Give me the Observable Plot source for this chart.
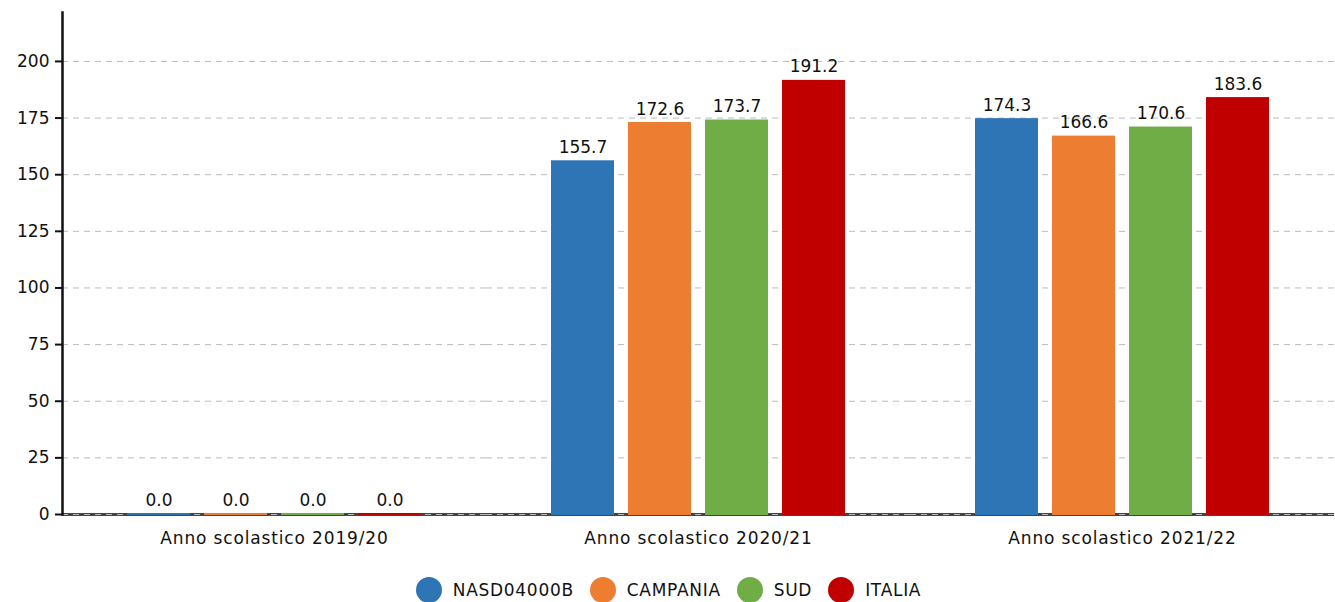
<!DOCTYPE html>
<html>
<head>
<meta charset="utf-8">
<script src="https://cdn.jsdelivr.net/npm/d3@7"></script>
<script src="https://cdn.jsdelivr.net/npm/@observablehq/plot@0.6"></script>
<style>
  html, body { margin: 0; padding: 0; background: #fff; }
  body { width: 1335px; font-family: "DejaVu Sans", sans-serif; }
  #legend { display: flex; justify-content: center; align-items: center; height: 60px; font-size: 17px; letter-spacing: 0.7px; color: #111; padding-left: 2px; }
  .item { display: flex; align-items: center; margin: 0 8px; }
  .dot { width: 26px; height: 26px; border-radius: 50%; margin-right: 11px; }
  .fxlab text { letter-spacing: 0.85px; }
</style>
</head>
<body>
<div id="chart"></div>
<div id="legend"></div>
<script>
const years = ["Anno scolastico 2019/20", "Anno scolastico 2020/21", "Anno scolastico 2021/22"];
const series = ["NASD04000B", "CAMPANIA", "SUD", "ITALIA"];
const colors = ["#2E75B6", "#ED7D31", "#70AD47", "#C00000"];
const nasd = [0.0, 155.7, 174.3];
const campania = [0.0, 172.6, 166.6];
const sud = [0.0, 173.7, 170.6];
const italia = [0.0, 191.2, 183.6];
const yTicks = [0, 25, 50, 75, 100, 125, 150, 175, 200];

const valuesBySeries = [nasd, campania, sud, italia];
const data = [];
years.forEach((yr, i) => {
  series.forEach((s, j) => {
    data.push({year: yr, series: s, value: valuesBySeries[j][i]});
  });
});

const chart = Plot.plot({
  width: 1335,
  height: 560,
  marginLeft: 61,
  marginRight: 0,
  marginTop: 12,
  marginBottom: 46,
  style: {fontFamily: "DejaVu Sans, sans-serif", fontSize: "17px", color: "#111"},
  fx: {domain: years, padding: 0, label: null, axis: null},
  x: {domain: series, paddingInner: 0.176, paddingOuter: 0.82, axis: null},
  y: {domain: [0, 221.6], ticks: yTicks, label: null, axis: null},
  color: {domain: series, range: colors},
  marks: [
    Plot.gridY(yTicks, {stroke: "#bbb", strokeOpacity: 1, strokeDasharray: "6,5", strokeWidth: 1}),
    Plot.ruleY([0], {stroke: "#444", strokeWidth: 3}),
    Plot.gridY([0], {stroke: "#bbb", strokeOpacity: 1, strokeDasharray: "6,5", strokeWidth: 1}),
    Plot.barY(data, {fx: "year", x: "series", y: "value", fill: "series", insetTop: -1, insetBottom: -1}),
    Plot.text(data, {fx: "year", x: "series", y: "value", text: d => d.value.toFixed(1), lineAnchor: "bottom", dy: -9, fontSize: 17, fill: "#111", style: "letter-spacing:0.3px"}),
    Plot.axisFx({anchor: "bottom", tickSize: 0, tickPadding: 17, fontSize: 17, fill: "#111", label: null, className: "fxlab"}),
    Plot.axisY({ticks: yTicks, tickSize: 7, tickPadding: 6, stroke: "#111", strokeWidth: 2, fontSize: 17, fill: "#111", label: null}),
    Plot.frame({anchor: "left", stroke: "#111", strokeWidth: 2.5, facetAnchor: "left"})
  ]
});
document.getElementById("chart").appendChild(chart);

const legend = document.getElementById("legend");
series.forEach((s, i) => {
  const item = document.createElement("div");
  item.className = "item";
  const dot = document.createElement("span");
  dot.className = "dot";
  dot.style.background = colors[i];
  const lab = document.createElement("span");
  lab.textContent = s;
  item.appendChild(dot);
  item.appendChild(lab);
  legend.appendChild(item);
});
</script>
</body>
</html>
